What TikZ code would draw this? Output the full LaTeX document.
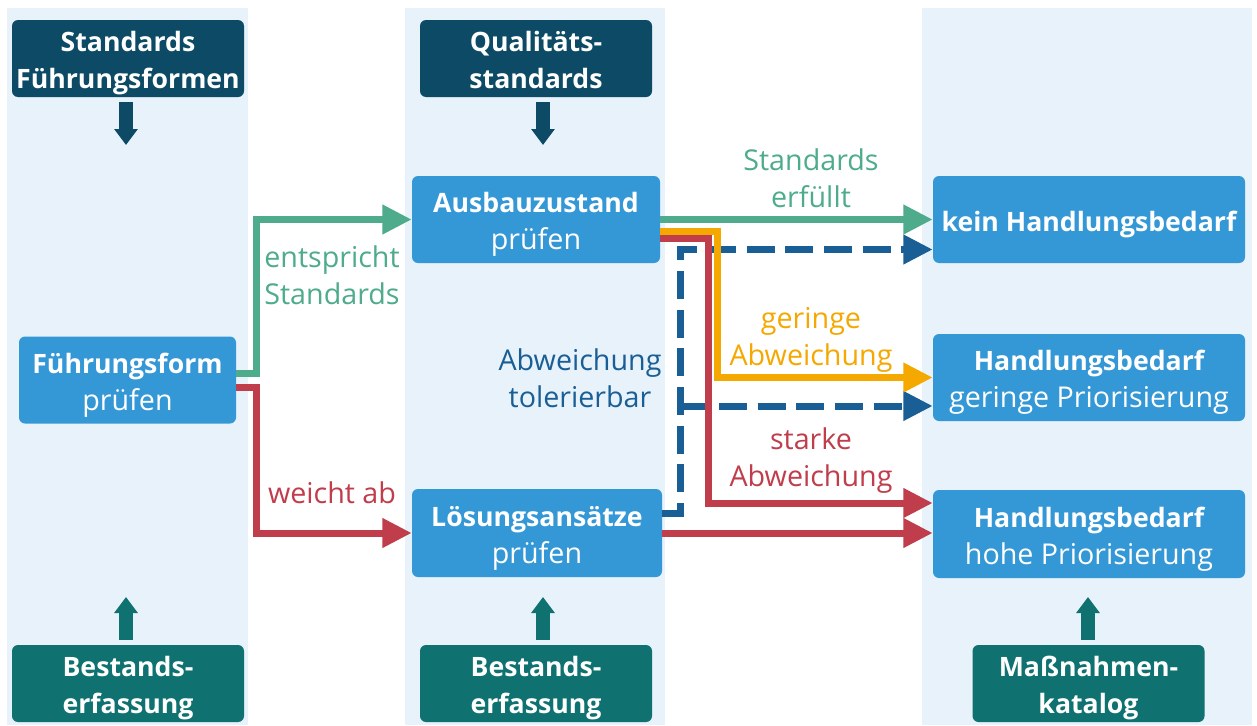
\documentclass[tikz,border=0pt]{standalone}
\usepackage{fontspec}
\setmainfont{Open Sans}
\usepackage{tikz}
\usetikzlibrary{arrows.meta,positioning,calc}
\definecolor{panelbg}{HTML}{E7F2FB}
\definecolor{topdark}{HTML}{0C4A66}
\definecolor{botteal}{HTML}{0F7271}
\definecolor{boxblue}{HTML}{3598D6}
\definecolor{okgreen}{HTML}{4EAC8C}
\definecolor{badred}{HTML}{C03E4C}
\definecolor{minorange}{HTML}{F5A800}
\definecolor{tolblue}{HTML}{1A5E96}
\newcommand{\boxhead}[1]{{\fontsize{20}{27.75}\selectfont\bfseries\rule[-5pt]{0pt}{27.5pt}#1}}

\begin{document}
\begin{tikzpicture}[x=0.75pt,y=-0.75pt,
    every node/.style={font=\fontsize{21.5}{27.75}\selectfont},
    card/.style={rectangle,rounded corners=4.5pt,text=white,align=center,inner sep=0pt},
    srcbox/.style={card,fill=topdark,minimum width=174pt,minimum height=57.75pt},
    basebox/.style={srcbox,fill=botteal},
    task/.style={card,fill=boxblue,minimum height=65.25pt},
    result/.style={task,minimum width=234pt},
    lbl/.style={align=center,inner sep=0pt},
    flow/.style={line width=5.25pt,-{Triangle[length=22pt,width=21pt]}},
    dflow/.style={flow,draw=tolblue,dash pattern=on 21pt off 8pt},
    feed/.style={line width=10.5pt,-{Triangle[length=12pt,width=17pt]}}]

    \useasboundingbox (0,0) rectangle (1257,725);
    \fill[white] (0,0) rectangle (1257,725);
    \fill[panelbg] (7,8) rectangle (248,725);
    \fill[panelbg] (405,8) rectangle (665,725);
    \fill[panelbg] (922,8) rectangle (1252,725);

    \node[srcbox] (stdf) at (128,58.5) {\boxhead{Standards}\\\boxhead{Führungsformen}};
    \node[srcbox] (qual) at (536,58.5) {\boxhead{Qualitäts-}\\\boxhead{standards}};
    \node[basebox] (best1) at (128,683.5) {\boxhead{Bestands-}\\\boxhead{erfassung}};
    \node[basebox] (best2) at (536,683.5) {\boxhead{Bestands-}\\\boxhead{erfassung}};
    \node[basebox] (massn) at (1088.5,683.5) {\boxhead{Maßnahmen-}\\\boxhead{katalog}};

    \node[task,minimum width=162.75pt] (fuehr) at (127.5,380) {\boxhead{Führungsform}\\prüfen};
    \node[task,minimum width=186pt] (ausbau) at (536,219.5) {\boxhead{Ausbauzustand}\\prüfen};
    \node[task,minimum width=187.5pt,minimum height=66pt] (loesung) at (537,533) {\boxhead{Lösungsansätze}\\prüfen};
    \node[result] (kein) at (1089,219.5) {\boxhead{kein Handlungsbedarf}};
    \node[result] (gering) at (1089,377.5) {\boxhead{Handlungsbedarf}\\geringe Priorisierung};
    \node[result,minimum height=66pt] (hoch) at (1089,534) {\boxhead{Handlungsbedarf}\\hohe Priorisierung};

    \coordinate (f1) at (126,145);
    \coordinate (f2) at (543,145);
    \coordinate (b1) at (126,597);
    \coordinate (b2) at (543,597);
    \coordinate (b3) at (1088,597);
    \draw[feed,topdark] (stdf.south -| f1) ++(0,5) -- (f1);
    \draw[feed,topdark] (qual.south -| f2) ++(0,5) -- (f2);
    \draw[feed,botteal] (best1.north -| b1) ++(0,-5) -- (b1);
    \draw[feed,botteal] (best2.north -| b2) ++(0,-5) -- (b2);
    \draw[feed,botteal] (massn.north -| b3) ++(0,-5) -- (b3);

    \draw[flow,okgreen] ($(fuehr.east)+(0,-7)$) -- ++(20,0) |- (ausbau.west);
    \draw[flow,badred] ($(fuehr.east)+(0,7)$) -- ++(20,0) |- (loesung.west);

    \draw[dflow] ($(loesung.east)+(0,-20)$) -- ++(18,0) coordinate (dx)
        |- ($(kein.west)+(0,30)$);
    \coordinate (tb) at ($(gering.west)+(0,28.5)$);
    \draw[dflow] (dx |- tb) -- (tb);

    \draw[flow,badred] ($(ausbau.east)+(0,19)$) -- ++(48,0) |- ($(hoch.west)+(0,-31)$);
    \draw[flow,minorange] ($(ausbau.east)+(0,12)$) -- ++(57,0) |- (gering.west);
    \draw[flow,okgreen] (ausbau.east) -- (kein.west);
    \draw[flow,badred] (loesung.east) -- (loesung.east -| hoch.west);

    \node[lbl,text=okgreen] (entspr) at (332,275) {entspricht\\Standards};
    \node[lbl,text=badred] (weicht) at (332,493) {weicht ab};
    \node[lbl,text=okgreen] (erfuellt) at (811,178) {Standards\\erfüllt};
    \node[lbl,text=minorange] (geringab) at (811,340) {geringe\\Abweichung};
    \node[lbl,text=badred] (starkab) at (811,461) {starke\\Abweichung};
    \node[lbl,text=tolblue] (toler) at (580,378) {Abweichung\\tolerierbar};

\end{tikzpicture}
\end{document}
